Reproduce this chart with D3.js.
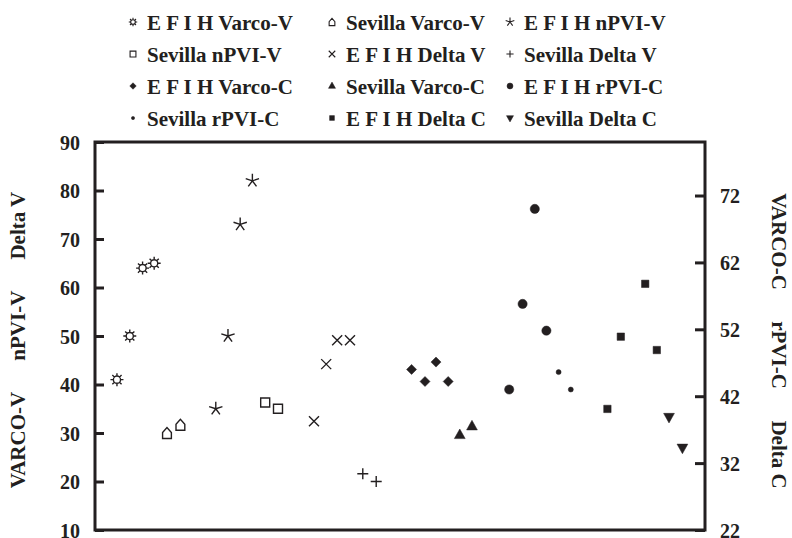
<!DOCTYPE html>
<html>
<head>
<meta charset="utf-8">
<script src="https://cdn.jsdelivr.net/npm/d3@7"></script>
<style>
  body { margin: 0; background: #fff; }
  text { font-family: "Liberation Serif", "Times New Roman", serif; font-weight: bold; fill: #231f20; }
</style>
</head>
<body>
<svg id="chart" width="792" height="538"></svg>
<script>
// series, in legend order (row by row)
const seriesNames = [
  "E F I H Varco-V", "Sevilla Varco-V", "E F I H nPVI-V",
  "Sevilla nPVI-V", "E F I H Delta V", "Sevilla Delta V",
  "E F I H Varco-C", "Sevilla Varco-C", "E F I H rPVI-C",
  "Sevilla rPVI-C", "E F I H Delta C", "Sevilla Delta C"
];
// which y axis each series is read against
const seriesAxis = ["left", "left", "left", "left", "left", "left",
  "right", "right", "right", "right", "right", "right"];
// horizontal slot of each point (no x axis in the original)
const seriesX = [
  [3.6, 5.7, 7.8, 9.7],
  [11.8, 14.0],
  [19.8, 21.8, 23.8, 25.8],
  [27.9, 30.0],
  [35.9, 37.9, 39.7, 41.8],
  [43.9, 46.1],
  [51.9, 54.1, 55.9, 57.9],
  [59.8, 61.8],
  [67.9, 70.1, 72.1, 74.0],
  [76.0, 78.0],
  [84.0, 86.2, 90.2, 92.1],
  [94.1, 96.3]
];
const seriesY = [
  [41, 50, 64, 65],
  [30, 31.7],
  [35, 50, 73, 82],
  [36.3, 35],
  [32.4, 44.2, 49.1, 49.1],
  [21.6, 20],
  [46, 44.2, 47.1, 44.2],
  [36.2, 37.5],
  [43, 55.8, 70, 51.8],
  [45.6, 43],
  [40.1, 50.9, 58.8, 48.9],
  [38.9, 34.3]
];
const leftTicks = [10, 20, 30, 40, 50, 60, 70, 80, 90];
const rightTicks = [22, 32, 42, 52, 62, 72];
const leftTitle = "VARCO-V      nPVI-V      Delta V";
const rightTitle = "VARCO-C      rPVI-C      Delta C";

// marker shapes (size = radius)
const sun = { draw(c, r) {
  const r0 = r * 0.55;
  c.moveTo(r0, 0); c.arc(0, 0, r0, 0, 2 * Math.PI);
  for (let k = 0; k < 8; k++) {
    const a = k * Math.PI / 4;
    c.moveTo(Math.cos(a) * r0, Math.sin(a) * r0);
    c.lineTo(Math.cos(a) * r, Math.sin(a) * r);
  }
}};
const house = { draw(c, r) {
  c.moveTo(-r * 0.8, r); c.lineTo(r * 0.8, r); c.lineTo(r * 0.8, -r * 0.1);
  c.lineTo(0, -r); c.lineTo(-r * 0.8, -r * 0.1); c.closePath();
}};
const star5 = { draw(c, r) {
  for (let k = 0; k < 5; k++) {
    const a = -Math.PI / 2 + k * 2 * Math.PI / 5;
    c.moveTo(0, 0); c.lineTo(Math.cos(a) * r, Math.sin(a) * r);
  }
}};
const square = { draw(c, r) { c.rect(-r, -r, 2 * r, 2 * r); } };
const times = { draw(c, r) {
  c.moveTo(-r, -r); c.lineTo(r, r); c.moveTo(r, -r); c.lineTo(-r, r);
}};
const plus = { draw(c, r) {
  c.moveTo(-r, 0); c.lineTo(r, 0); c.moveTo(0, -r); c.lineTo(0, r);
}};
const diamond = { draw(c, r) {
  c.moveTo(0, -r); c.lineTo(r, 0); c.lineTo(0, r); c.lineTo(-r, 0); c.closePath();
}};
const triUp = { draw(c, r) {
  c.moveTo(0, -r); c.lineTo(r * 0.9, r * 0.6); c.lineTo(-r * 0.9, r * 0.6); c.closePath();
}};
const triDown = { draw(c, r) {
  c.moveTo(0, r); c.lineTo(r * 0.9, -r * 0.6); c.lineTo(-r * 0.9, -r * 0.6); c.closePath();
}};
const dot = { draw(c, r) { c.moveTo(r, 0); c.arc(0, 0, r, 0, 2 * Math.PI); } };

const styles = [
  { type: sun, fill: false, r: 6.5 },
  { type: house, fill: false, r: 5.5 },
  { type: star5, fill: false, r: 7 },
  { type: square, fill: false, r: 4.5 },
  { type: times, fill: false, r: 5 },
  { type: plus, fill: false, r: 5.5 },
  { type: diamond, fill: true, r: 5 },
  { type: triUp, fill: true, r: 6 },
  { type: dot, fill: true, r: 4.6 },
  { type: dot, fill: true, r: 2.5 },
  { type: square, fill: true, r: 3.7 },
  { type: triDown, fill: true, r: 6 }
];

const ink = "#231f20";
const svg = d3.select("#chart");
const plot = { left: 95, right: 705, top: 142, bottom: 530 };

const x = d3.scaleLinear().domain([0, 100]).range([plot.left, plot.right]);
const yLeft = d3.scaleLinear().domain([10, 90]).range([plot.bottom, plot.top]);
const yRight = d3.scaleLinear().domain([22, 80]).range([plot.bottom, plot.top]);

// frame
svg.append("rect")
  .attr("x", plot.left).attr("y", plot.top)
  .attr("width", plot.right - plot.left).attr("height", plot.bottom - plot.top)
  .attr("fill", "none").attr("stroke", ink).attr("stroke-width", 3);

// left axis, ticks pointing inward
const gl = svg.append("g").attr("transform", "translate(" + plot.left + ",0)")
  .call(d3.axisRight(yLeft).tickValues(leftTicks).tickSize(9).tickFormat(""));
gl.select(".domain").remove();
gl.selectAll("line").attr("stroke", ink).attr("stroke-width", 3);
svg.append("g").selectAll("text").data(leftTicks).enter().append("text")
  .attr("x", 80).attr("y", (d) => yLeft(d)).attr("dy", "0.38em")
  .attr("text-anchor", "end").attr("font-size", 20).text((d) => d);

// right axis
const gr = svg.append("g").attr("transform", "translate(" + plot.right + ",0)")
  .call(d3.axisLeft(yRight).tickValues(rightTicks).tickSize(10).tickFormat(""));
gr.select(".domain").remove();
gr.selectAll("line").attr("stroke", ink).attr("stroke-width", 3);
svg.append("g").selectAll("text").data(rightTicks).enter().append("text")
  .attr("x", 720).attr("y", (d) => yRight(d)).attr("dy", "0.38em")
  .attr("text-anchor", "start").attr("font-size", 20).text((d) => d);

// axis titles
svg.append("text")
  .attr("transform", "translate(25,340) rotate(-90)")
  .attr("text-anchor", "middle").attr("font-size", 21)
  .style("white-space", "pre").text(leftTitle);
svg.append("text")
  .attr("transform", "translate(772,341) rotate(90)")
  .attr("text-anchor", "middle").attr("font-size", 21)
  .style("white-space", "pre").text(rightTitle);

// points
const sym = (i, scale) => d3.symbol().type(styles[i].type).size(styles[i].r * scale);
seriesNames.forEach((name, i) => {
  const yScale = seriesAxis[i] === "left" ? yLeft : yRight;
  const pts = seriesX[i].map((v, j) => ({ x: v, y: seriesY[i][j] }));
  svg.append("g").attr("class", "series")
    .selectAll("path").data(pts).enter().append("path")
    .attr("transform", (d) => "translate(" + x(d.x) + "," + yScale(d.y) + ")")
    .attr("d", sym(i, 1)())
    .attr("fill", styles[i].fill ? ink : "none")
    .attr("stroke", ink)
    .attr("stroke-width", styles[i].fill ? 0.5 : 1.4);
});

// legend, 3 columns x 4 rows
const legX = [133, 332, 510];
const legY = [22, 54, 86, 118];
const leg = svg.append("g").selectAll("g").data(seriesNames).enter().append("g")
  .attr("transform", (d, i) => "translate(" + legX[i % 3] + "," + legY[Math.floor(i / 3)] + ")");
leg.append("path")
  .attr("d", (d, i) => sym(i, 0.65)())
  .attr("fill", (d, i) => styles[i].fill ? ink : "none")
  .attr("stroke", ink)
  .attr("stroke-width", (d, i) => styles[i].fill ? 0.5 : 1.1);
leg.append("text")
  .attr("x", 14).attr("dy", "0.36em").attr("font-size", 21)
  .style("white-space", "pre").text((d) => d);
</script>
</body>
</html>
